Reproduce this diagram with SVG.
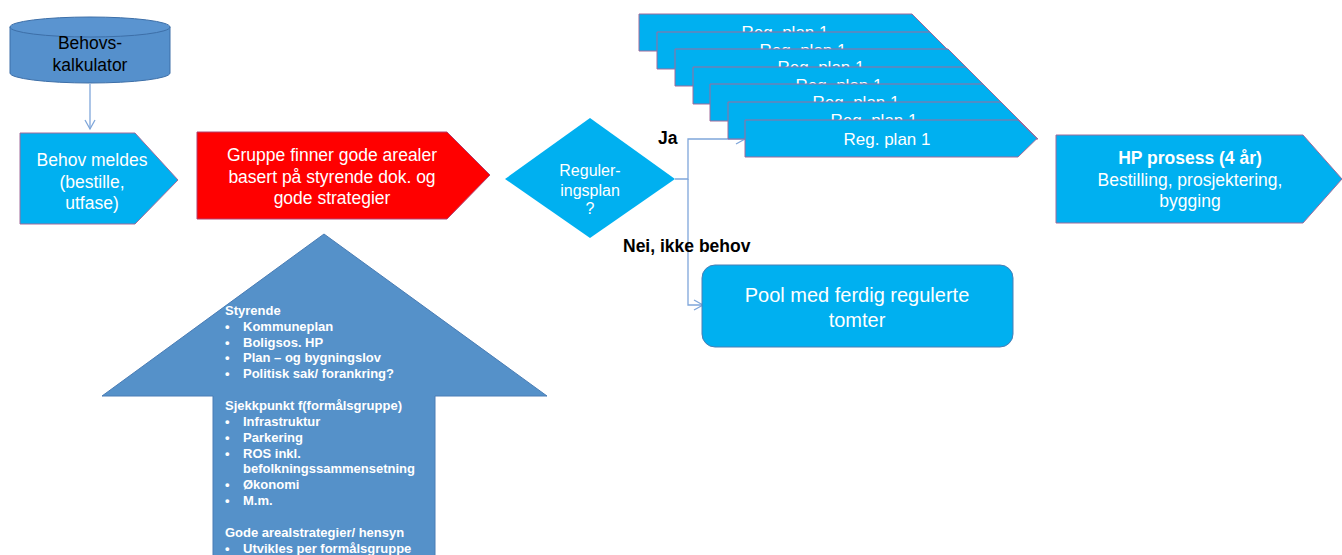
<svg xmlns="http://www.w3.org/2000/svg" width="1342" height="555" viewBox="0 0 1342 555">
<style>
.t{font-family:"Liberation Sans",Arial,sans-serif;fill:#fff;text-anchor:middle}
.pent{fill:#00B0F0;stroke:#A06A9A;stroke-width:1}
.reg{font-family:"Liberation Sans",Arial,sans-serif;fill:#fff;font-size:17px;text-anchor:middle}
.lbl{font-family:"Liberation Sans",Arial,sans-serif;fill:#000;font-size:17.5px;font-weight:bold}
.conn{fill:none;stroke:#7FA6DA;stroke-width:1.3}
.ar{font-family:"Liberation Sans",Arial,sans-serif;fill:#fff;font-size:13px;font-weight:bold}
</style>
<defs>
<marker id="open" markerWidth="12" markerHeight="12" refX="10" refY="6" orient="auto" markerUnits="userSpaceOnUse">
<path d="M1,1 L10,6 L1,11" fill="none" stroke="#7FA6DA" stroke-width="1.3"/>
</marker>
</defs>
<rect width="1342" height="555" fill="#fff"/>

<g id="connectors">
<line class="conn" x1="90" y1="84" x2="90" y2="129" marker-end="url(#open)"/>
<polyline class="conn" points="675,179 688,179 688,139 745,139" marker-end="url(#open)"/>
<polyline class="conn" points="688,179 688,305 703,305" marker-end="url(#open)"/>
</g>

<g id="behovskalkulator">
<path d="M10,27 L10,73 A80,10 0 0 0 170,73 L170,27" fill="#5590CC" stroke="#3D6FA8" stroke-width="1"/>
<ellipse cx="90" cy="27" rx="80" ry="10" fill="#5A94D0" stroke="#3D6FA8" stroke-width="1"/>
<text class="t" x="90" y="49" font-size="17.5" style="fill:#000">Behovs-</text>
<text class="t" x="90" y="71" font-size="17.5" style="fill:#000">kalkulator</text>
</g>

<g id="behov-meldes">
<polygon class="pent" points="20,133 135,133 178,180 135,224 20,224"/>
<text class="t" x="92" y="166" font-size="17.5">Behov meldes</text>
<text class="t" x="92" y="188" font-size="17.5">(bestille,</text>
<text class="t" x="92" y="209" font-size="17.5">utfase)</text>
</g>

<g id="gruppe">
<polygon points="197,132 447,132 490,175 447,219 197,219" fill="#FF0000" stroke="#B04070" stroke-width="1"/>
<text class="t" x="332" y="161" font-size="17.5">Gruppe finner gode arealer</text>
<text class="t" x="332" y="183" font-size="17.5">basert på styrende dok. og</text>
<text class="t" x="332" y="204" font-size="17.5">gode strategier</text>
</g>

<g id="reguleringsplan">
<polygon points="590,118 675,179 590,238 505,179" fill="#00B0F0"/>
<text class="t" x="590" y="176" font-size="16">Reguler-</text>
<text class="t" x="590" y="196" font-size="16">ingsplan</text>
<text class="t" x="590" y="214" font-size="16">?</text>
</g>

<g id="labels">
<text class="lbl" x="658" y="144">Ja</text>
<text class="lbl" x="623" y="252">Nei, ikke behov</text>
</g>

<g id="regplan-stack">
<g id="regplan-1"><polygon class="pent" points="639,14 912,14 949,51 639,51"/><text class="reg" x="785" y="38">Reg. plan 1</text></g>
<g id="regplan-2"><polygon class="pent" points="657,32 930,32 967,69 657,69"/><text class="reg" x="803" y="56">Reg. plan 1</text></g>
<g id="regplan-3"><polygon class="pent" points="675,49 948,49 985,86 675,86"/><text class="reg" x="821" y="73">Reg. plan 1</text></g>
<g id="regplan-4"><polygon class="pent" points="693,67 966,67 1003,104 693,104"/><text class="reg" x="839" y="91">Reg. plan 1</text></g>
<g id="regplan-5"><polygon class="pent" points="710,84 983,84 1020,121 710,121"/><text class="reg" x="856" y="108">Reg. plan 1</text></g>
<g id="regplan-6"><polygon class="pent" points="728,102 1001,102 1038,139 728,139"/><text class="reg" x="874" y="126">Reg. plan 1</text></g>
<g id="regplan-7"><polygon class="pent" points="745,120 1018,120 1037,138.5 1018,157 745,157"/><text class="reg" x="887" y="144.5">Reg. plan 1</text></g>
</g>

<g id="hp-prosess">
<polygon class="pent" points="1056,135 1303,135 1342,179 1303,223 1056,223"/>
<text class="t" x="1190" y="164" font-size="17.5" font-weight="bold">HP prosess (4 år)</text>
<text class="t" x="1190" y="186" font-size="17.5">Bestilling, prosjektering,</text>
<text class="t" x="1190" y="207" font-size="17.5">bygging</text>
</g>

<g id="pool">
<rect x="702" y="265" width="311" height="82" rx="13" fill="#00B0F0" stroke="#4A7EB5" stroke-width="1"/>
<text class="t" x="857" y="302" font-size="20">Pool med ferdig regulerte</text>
<text class="t" x="857" y="327" font-size="20">tomter</text>
</g>

<g id="styrende-arrow">
<polygon points="324,234 547,396 435,396 435,560 213,560 213,396 102,396" fill="#5591C9" stroke="#4A7DB5" stroke-width="1"/>
<text class="ar" x="225" y="315">Styrende</text>
<g class="ar">
<text x="225" y="331">•</text><text x="243" y="331">Kommuneplan</text>
<text x="225" y="347">•</text><text x="243" y="347">Boligsos. HP</text>
<text x="225" y="362">•</text><text x="243" y="362">Plan – og bygningslov</text>
<text x="225" y="378">•</text><text x="243" y="378">Politisk sak/ forankring?</text>
</g>
<text class="ar" x="225" y="410">Sjekkpunkt f(formålsgruppe)</text>
<g class="ar">
<text x="225" y="426">•</text><text x="243" y="426">Infrastruktur</text>
<text x="225" y="442">•</text><text x="243" y="442">Parkering</text>
<text x="225" y="458">•</text><text x="243" y="458">ROS inkl.</text>
<text x="243" y="473">befolkningssammensetning</text>
<text x="225" y="489">•</text><text x="243" y="489">Økonomi</text>
<text x="225" y="505">•</text><text x="243" y="505">M.m.</text>
</g>
<text class="ar" x="225" y="537">Gode arealstrategier/ hensyn</text>
<g class="ar">
<text x="225" y="553">•</text><text x="243" y="553">Utvikles per formålsgruppe</text>
</g>
</g>
</svg>
